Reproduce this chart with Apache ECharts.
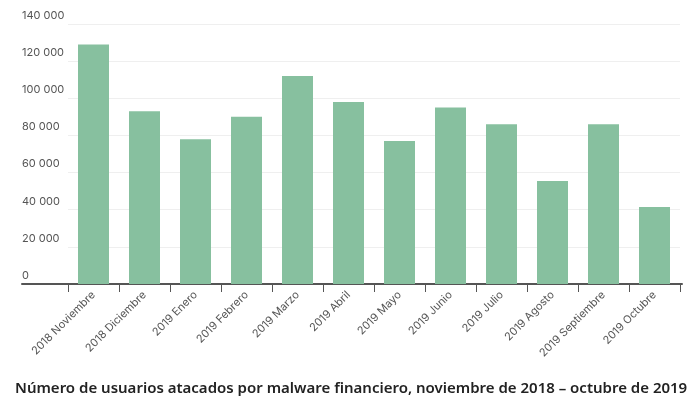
<!DOCTYPE html>
<html><head><meta charset="utf-8">
<script src="https://cdn.jsdelivr.net/npm/echarts@6/dist/echarts.min.js"></script>
<style>html,body{margin:0;padding:0;background:#fff}#c{width:694px;height:398px}</style>
</head><body><div id="c"></div>
<script>
const categories = ['2018 Noviembre','2018 Diciembre','2019 Enero','2019 Febrero','2019 Marzo','2019 Abril','2019 Mayo','2019 Junio','2019 Julio','2019 Agosto','2019 Septiembre','2019 Octubre'];
const users = [129000, 93000, 78000, 90000, 112000, 98000, 77000, 95000, 86000, 55500, 86000, 41500];
const yTicks = { min: 0, max: 140000, interval: 20000 };
const titleText = 'Número de usuarios atacados por malware financiero, noviembre de 2018 – octubre de 2019';

const chart = echarts.init(document.getElementById('c'), null, {renderer: 'canvas'});
chart.setOption({
  animation: false,
  backgroundColor: '#fff',
  title: {
    text: titleText, left: 10, top: 376,
    textStyle: { fontFamily: 'Noto Sans', fontSize: 15, fontWeight: 600, color: '#222' }
  },
  grid: [
    { left: 22, right: 12, top: 24, bottom: 114 },
    { left: 68, right: 14, top: 24, bottom: 114 }
  ],
  xAxis: [
    { gridIndex: 0, type: 'value', min: 0, max: 1, axisLine: { show: true, onZero: false, lineStyle: { color: '#555', width: 2 } },
      axisTick: { show: false }, axisLabel: { show: false }, splitLine: { show: false } },
    { gridIndex: 1, type: 'category', data: categories,
      axisLine: { show: false }, axisTick: { show: true, length: 8, lineStyle: { color: '#555', width: 1 } },
      axisLabel: { rotate: 45, margin: 9, fontFamily: 'Inter', fontSize: 11, color: '#555' } }
  ],
  yAxis: [
    { gridIndex: 0, type: 'value', show: false, min: yTicks.min, max: yTicks.max },
    { gridIndex: 1, type: 'value', min: yTicks.min, max: yTicks.max, interval: yTicks.interval,
      axisLine: { show: false }, axisTick: { show: false },
      splitLine: { lineStyle: { color: '#efefef', width: 1 } },
      axisLabel: { align: 'left', margin: 46, verticalAlign: 'bottom', padding: [0,0,3,0],
        fontFamily: 'Inter', fontSize: 11, color: '#555',
        formatter: v => String(v).replace(/\B(?=(\d{3})+(?!\d))/g, ' ') } }
  ],
  series: [{
    type: 'bar', xAxisIndex: 1, yAxisIndex: 1, data: users, barWidth: 31,
    itemStyle: { color: '#87c09f' }
  }]
});
</script></body></html>
